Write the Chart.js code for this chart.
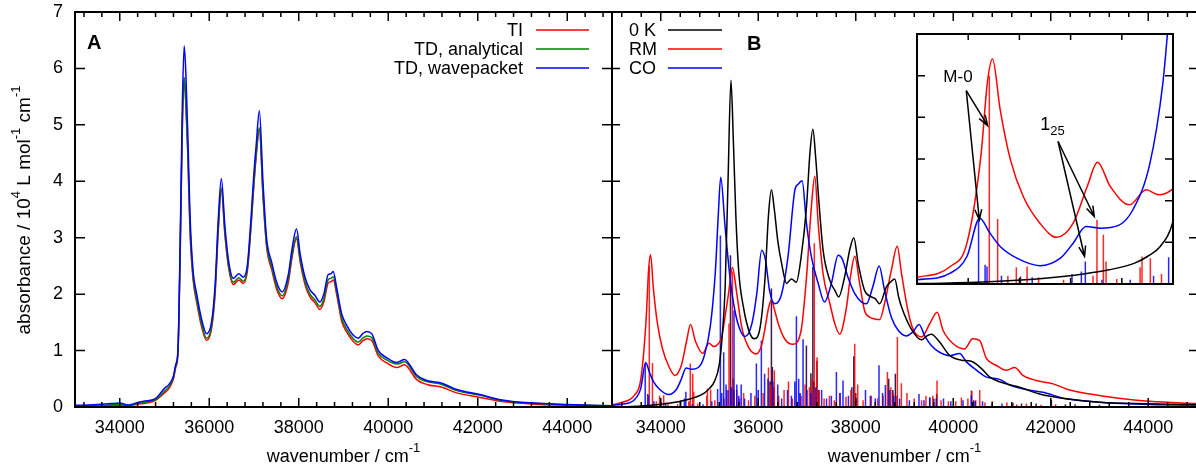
<!DOCTYPE html>
<html>
<head>
<meta charset="utf-8">
<script src="https://cdn.jsdelivr.net/npm/chart.js@4.4.1/dist/chart.umd.min.js"></script>
<style>
html,body{margin:0;padding:0;background:#fff;overflow:hidden}
#wrap{position:relative;width:1196px;height:468px;overflow:hidden;background:#fff}
canvas{position:absolute}
#cA{left:0;top:0}
#cB{left:612px;top:0}
#cI{left:915px;top:33px}
</style>
</head>
<body>
<div id="wrap">
<canvas id="cA" width="614" height="468"></canvas>
<canvas id="cB" width="586" height="468"></canvas>
<canvas id="cI" width="260" height="253"></canvas>
</div>
<script>
// ---- panel A : three spectra on one wavenumber grid ----
const waveA = [33000,33400,33800,34000,34200,34400,34600,34800,35000,35100,
  35200,35250,35300,35350,35400,35440,35480,35520,35570,35640,
  35720,35830,35940,36050,36130,36200,36270,36350,36430,36540,
  36660,36760,36850,36930,36990,37050,37120,37200,37280,37400,
  37510,37630,37770,37850,37950,38030,38140,38250,38360,38470,
  38560,38660,38720,38770,38850,38960,39070,39220,39330,39430,
  39520,39630,39780,39970,40190,40370,40450,40630,40860,41200,
  41530,42050,42500,43240,44000,45000];
const ti = [0.01,0.01,0.02,0.03,0.03,0.05,0.07,0.12,0.25,0.33,
  0.50,0.70,0.95,2.7,5.0,5.82,5.3,4.5,3.1,2.25,
  1.85,1.42,1.18,1.38,2.0,3.1,3.85,3.05,2.48,2.17,
  2.25,2.19,2.4,3.15,3.85,4.45,4.92,3.75,2.85,2.42,
  2.08,1.92,2.22,2.65,2.98,2.58,2.17,1.95,1.85,1.73,
  1.86,2.2,2.22,2.25,1.98,1.52,1.33,1.16,1.10,1.17,
  1.21,1.18,0.90,0.78,0.70,0.75,0.69,0.49,0.40,0.35,
  0.25,0.17,0.10,0.05,0.03,0.01];
const tdAnalytical = [0.02,0.02,0.04,0.05,0.04,0.06,0.09,0.13,0.28,0.36,
  0.52,0.72,0.97,2.75,5.05,5.84,5.35,4.55,3.2,2.3,
  1.9,1.47,1.22,1.42,2.05,3.15,3.88,3.1,2.52,2.21,
  2.29,2.23,2.44,3.2,3.9,4.5,4.95,3.8,2.9,2.47,
  2.13,1.97,2.28,2.7,3.02,2.63,2.22,2.0,1.9,1.78,
  1.92,2.26,2.28,2.31,2.03,1.58,1.38,1.21,1.15,1.22,
  1.26,1.23,0.95,0.83,0.76,0.80,0.75,0.54,0.45,0.40,
  0.29,0.21,0.12,0.065,0.04,0.02];
const tdWavepacket = [0.03,0.04,0.06,0.07,0.03,0.08,0.11,0.15,0.33,0.40,
  0.55,0.75,1.0,2.9,5.4,6.40,5.85,4.85,3.4,2.4,
  2.0,1.55,1.30,1.50,2.15,3.3,4.05,3.2,2.6,2.28,
  2.36,2.30,2.5,3.3,4.05,4.65,5.25,4.0,3.0,2.55,
  2.20,2.04,2.36,2.8,3.16,2.72,2.30,2.08,1.98,1.86,
  2.0,2.35,2.36,2.40,2.1,1.65,1.45,1.27,1.22,1.30,
  1.34,1.30,1.00,0.87,0.79,0.84,0.78,0.57,0.47,0.42,
  0.31,0.22,0.13,0.07,0.045,0.02];

// ---- panel B : [wavenumber, absorbance] ----
const zeroK = [[33000,0.005],[33400,0.01],[33800,0.03],[34200,0.07],[34500,0.12],[34700,0.17],[34900,0.25],[35000,0.33],
  [35100,0.45],[35200,0.75],[35260,1.25],[35320,2.1],[35380,4.0],[35440,5.79],[35490,4.7],[35540,3.4],[35600,2.4],
  [35700,1.75],[35830,1.30],[35920,1.21],[36040,1.42],[36140,2.3],[36210,3.4],[36270,3.85],[36330,3.5],[36400,2.95],
  [36480,2.54],[36580,2.19],[36680,2.27],[36780,2.21],[36880,2.66],[36990,3.55],[37060,4.5],[37120,4.92],[37180,4.4],
  [37230,3.8],[37330,2.78],[37470,2.24],[37570,2.07],[37650,1.95],[37770,2.30],[37880,2.8],[37960,3.0],[38050,2.54],
  [38180,2.07],[38320,1.95],[38400,1.92],[38490,1.83],[38630,2.13],[38720,2.22],[38800,2.27],[38880,1.95],[38940,1.77],
  [39140,1.38],[39350,1.19],[39460,1.26],[39550,1.29],[39720,1.15],[39930,0.91],[40170,0.83],[40370,0.81],[40580,0.68],
  [40750,0.53],[41090,0.41],[41360,0.35],[41770,0.23],[42320,0.145],[43000,0.085],[44000,0.057],[45000,0.04]];
const rm = [[33000,0.04],[33200,0.08],[33460,0.21],[33590,0.49],[33700,1.55],[33750,2.42],[33790,2.70],[33850,2.09],
  [33930,1.49],[34030,1.05],[34160,0.73],[34290,0.56],[34420,0.73],[34530,1.17],[34610,1.46],[34710,1.17],[34860,0.95],
  [34990,1.13],[35090,1.07],[35180,1.12],[35250,1.24],[35320,1.6],[35390,2.01],[35470,2.47],[35560,2.01],[35660,1.42],
  [35800,1.06],[35960,0.94],[36070,1.1],[36140,1.4],[36210,1.75],[36270,1.89],[36340,1.7],[36410,1.48],[36540,1.21],
  [36710,1.11],[36880,1.36],[36990,2.30],[37090,3.55],[37160,4.09],[37230,3.25],[37330,2.36],[37470,1.83],[37570,1.48],
  [37670,1.29],[37810,1.77],[37890,2.3],[37980,2.67],[38080,2.19],[38180,1.71],[38290,1.59],[38390,1.56],[38490,1.55],
  [38590,1.83],[38730,2.42],[38850,2.85],[38940,2.36],[39070,1.71],[39170,1.39],[39350,1.24],[39520,1.48],[39670,1.68],
  [39790,1.36],[40000,1.12],[40230,1.03],[40400,1.21],[40540,1.18],[40680,0.86],[40880,0.74],[41090,0.65],[41260,0.70],
  [41430,0.56],[41700,0.47],[42050,0.41],[42320,0.32],[42870,0.22],[43350,0.16],[44030,0.10],[45000,0.06]];
const co = [[33000,0.03],[33200,0.05],[33460,0.13],[33590,0.33],[33690,0.79],[33770,0.61],[33850,0.45],[33980,0.31],
  [34160,0.22],[34320,0.31],[34420,0.49],[34520,0.69],[34630,0.67],[34770,0.70],[34890,0.9],[35020,1.45],[35120,2.4],
  [35180,3.4],[35230,4.07],[35320,3.19],[35420,2.30],[35520,1.71],[35630,1.36],[35730,1.25],[35870,1.48],[35970,2.01],
  [36070,2.78],[36150,2.6],[36235,2.05],[36340,1.83],[36475,1.99],[36610,2.66],[36750,3.84],[36820,3.95],[36900,4.01],
  [36990,3.25],[37090,2.66],[37230,2.19],[37360,1.86],[37500,2.19],[37640,2.69],[37720,2.63],[37840,2.30],[37980,2.01],
  [38120,1.86],[38220,1.83],[38350,2.13],[38480,2.50],[38590,2.07],[38730,1.59],[38870,1.36],[39040,1.26],[39170,1.33],
  [39300,1.46],[39410,1.27],[39550,1.09],[39720,0.97],[39930,0.91],[40130,0.95],[40270,0.80],[40480,0.65],[40680,0.53],
  [40950,0.49],[41160,0.39],[41500,0.31],[41840,0.26],[42320,0.145],[43000,0.085],[44030,0.045],[45000,0.035]];

// stick spectra [wavenumber, intensity]
const rmSticks = [[33765,2.5],[33830,0.78],[33910,0.10],[33976,0.2],[34060,0.21],[34150,0.08],[34345,0.05],[34575,0.1],
  [34606,0.77],[34656,0.59],[34677,0.27],[34760,0.06],[34943,0.2],[34958,0.33],[35023,0.31],[35110,0.12],[35300,0.15],
  [35350,0.3],[35400,1.48],[35470,2.4],[35560,0.3],[35620,0.15],[35700,0.25],[35800,0.12],[35930,0.2],[36000,0.1],
  [36100,0.25],[36210,0.7],[36260,0.4],[36300,0.35],[36330,0.65],[36420,0.2],[36530,0.3],[36620,0.45],[36700,0.15],
  [36880,0.2],[36960,0.4],[37050,0.35],[37100,0.5],[37150,2.9],[37205,0.88],[37250,0.3],[37350,0.15],[37460,0.2],
  [37560,0.12],[37670,0.25],[37800,0.18],[37900,0.3],[37979,1.12],[38040,0.4],[38150,0.12],[38320,0.2],[38450,0.15],
  [38560,0.2],[38650,0.62],[38720,0.35],[38770,0.25],[38854,1.24],[38936,0.42],[39050,0.25],[39200,0.15],[39350,0.12],
  [39440,0.2],[39580,0.2],[39667,0.47],[39750,0.12],[39900,0.1],[40050,0.1],[40167,0.17],[40300,0.15],[40380,0.29],
  [40460,0.12],[40543,0.30],[40650,0.08],[40800,0.1],[41100,0.08],[41300,0.05],[41500,0.06],[41800,0.04],[42100,0.05]];
const coSticks = [[33681,0.77],[33732,0.23],[33747,0.21],[33860,0.1],[34100,0.08],[34411,0.12],[34484,0.15],[34515,0.27],
  [34645,0.05],[34866,0.05],[35048,0.1],[35166,0.32],[35223,3.04],[35250,0.25],[35291,0.97],[35340,0.4],[35380,0.3],
  [35450,0.35],[35503,1.71],[35560,0.4],[35600,0.2],[35650,0.4],[35720,0.15],[35850,0.25],[35962,0.77],[36000,0.3],
  [36064,1.18],[36130,0.59],[36200,0.5],[36300,0.45],[36400,0.4],[36480,0.15],[36600,0.3],[36680,0.2],[36750,0.45],
  [36783,1.61],[36830,0.5],[36860,0.25],[36919,1.2],[37000,0.3],[37080,0.25],[37180,0.35],[37300,0.3],[37400,0.15],
  [37500,0.2],[37603,0.62],[37680,0.25],[37739,0.47],[37850,0.2],[38000,0.15],[38200,0.3],[38300,0.2],[38400,0.15],
  [38477,0.74],[38550,0.25],[38608,0.39],[38700,0.3],[38780,0.2],[38900,0.15],[39100,0.12],[39297,0.23],[39400,0.12],
  [39517,0.17],[39650,0.15],[39800,0.15],[39950,0.1],[40200,0.12],[40372,0.2],[40450,0.1],[40600,0.1],[40800,0.05],
  [41000,0.06]];
const zeroKSticks = [[34008,0.09],[35430,2.69],[35480,0.5],[35500,0.3],[36240,0.45],[36270,2.1],[36290,0.71],[36320,0.35],
  [36988,1.09],[37080,0.6],[37120,2.48],[37150,0.45],[37205,0.82],[37240,0.3],[37920,0.35],[37960,0.9],[38000,0.25],
  [38676,0.5],[38760,0.3],[38813,0.59],[38850,0.2],[39517,0.17],[39600,0.15],[39660,0.23],[40372,0.29],[40420,0.12],
  [41225,0.07],[41400,0.06],[41700,0.06],[42013,0.13],[42300,0.05],[42500,0.05],[43000,0.04]];

const xLabelTicks = [34000, 36000, 38000, 40000, 42000, 44000];
const yLabelTicks = [0, 1, 2, 3, 4, 5, 6, 7];
const insetXTicks = [33600, 34000, 34400, 34800];
const insetYTicks = [0.5, 1, 1.5, 2, 2.5];

// inset annotations, in inset data units
const insetLabels = [{t: 'M-0', x: 33520, y: 2.43}, {t: '1', sub: '25', x: 34163, y: 1.85}];
const insetArrows = [[33585, 2.32, 33752, 1.90], [33585, 2.32, 33687, 0.77],
                     [34302, 1.71, 34585, 0.81], [34302, 1.71, 34509, 0.33]];

const FONT = '"Liberation Sans", Arial, Helvetica, sans-serif';

function pairs(list) { return list.map(p => ({x: p[0], y: p[1]})); }
function sticks(list) {
  const pts = [];
  list.forEach(p => { pts.push({x: p[0], y: 0}, {x: p[0], y: p[1]}, {x: p[0], y: null}); });
  return pts;
}
function curve(label, data, color, order) {
  return {label: label, data: data, borderColor: color, borderWidth: 1.5, order: order,
          cubicInterpolationMode: 'monotone', pointRadius: 0};
}
function stickSet(data, color, order) {
  return {data: data, borderColor: color, borderWidth: 1.5, order: order, pointRadius: 0, tension: 0, spanGaps: false};
}
function datasetsB() {
  return [
    curve('0 K', pairs(zeroK), '#000000', 1),
    curve('CO', pairs(co), '#0000ff', 2),
    curve('RM', pairs(rm), '#ff0000', 3),
    stickSet(sticks(coSticks), 'rgba(0,0,255,0.85)', 4),
    stickSet(sticks(rmSticks), 'rgba(255,0,0,0.85)', 5),
    stickSet(sticks(zeroKSticks), 'rgba(40,0,60,0.9)', 6)
  ];
}

function richText(ctx, parts, x, y, size, align) {
  const small = Math.round(size * 0.7);
  let total = 0;
  parts.forEach(p => {
    ctx.font = (p.sup || p.sub ? small : size) + 'px ' + FONT;
    p.w = ctx.measureText(p.t).width;
    total += p.w;
  });
  let cx = align == 'center' ? x - total / 2 : (align == 'right' ? x - total : x);
  ctx.textAlign = 'left';
  ctx.textBaseline = 'alphabetic';
  parts.forEach(p => {
    ctx.font = (p.sup || p.sub ? small : size) + 'px ' + FONT;
    const dy = p.sup ? -size * 0.55 : (p.sub ? size * 0.3 : 0);
    ctx.fillText(p.t, cx, y + dy);
    cx += p.w;
  });
}

// gnuplot style box with inward ticks on all four sides
function frame(chart, o) {
  const ctx = chart.ctx, a = chart.chartArea, x = chart.scales.x, y = chart.scales.y;
  ctx.save();
  ctx.strokeStyle = '#000';
  ctx.lineWidth = o.box;
  ctx.strokeRect(a.left, a.top, a.right - a.left, a.bottom - a.top);
  ctx.lineWidth = o.tick;
  ctx.beginPath();
  o.xTicks.forEach(v => {
    const px = x.getPixelForValue(v);
    const len = (o.xMajor && o.xMajor.indexOf(v) >= 0) ? o.majorLen : o.minorLen;
    ctx.moveTo(px, a.bottom); ctx.lineTo(px, a.bottom - len);
    ctx.moveTo(px, a.top); ctx.lineTo(px, a.top + len);
  });
  o.yTicks.forEach(v => {
    const py = y.getPixelForValue(v);
    ctx.moveTo(a.left, py); ctx.lineTo(a.left + o.yLen, py);
    ctx.moveTo(a.right, py); ctx.lineTo(a.right - o.yLen, py);
  });
  ctx.stroke();
  ctx.restore();
}

function legend(ctx, items, textX, align, lineX0, lineX1, top) {
  ctx.save();
  items.forEach((it, i) => {
    ctx.fillStyle = '#000';
    ctx.font = '18px ' + FONT;
    ctx.textAlign = align;
    ctx.textBaseline = 'alphabetic';
    ctx.fillText(it[0], textX, top + 6 + 19 * i);
    ctx.strokeStyle = it[1];
    ctx.lineWidth = 1.5;
    ctx.beginPath();
    ctx.moveTo(lineX0, top + 19 * i);
    ctx.lineTo(lineX1, top + 19 * i);
    ctx.stroke();
  });
  ctx.restore();
}

const minorX = [];
for (let v = 33200; v < 45000; v += 400) minorX.push(v);

function noPad(s) { s.paddingTop = 0; s.paddingBottom = 0; s.paddingLeft = 0; s.paddingRight = 0; }

function xAxis() {
  return {
    type: 'linear', min: 33000, max: 45000,
    grid: {display: false, drawTicks: false}, border: {display: false},
    ticks: {font: {family: FONT, size: 18}, color: '#000', padding: 10, maxRotation: 0,
            callback: v => String(v)},
    afterBuildTicks: s => { s.ticks = xLabelTicks.map(v => ({value: v})); },
    afterFit: s => { s.height = 61; noPad(s); }
  };
}

const frameOpts = {box: 2, tick: 1.5, xTicks: minorX, xMajor: xLabelTicks, majorLen: 9, minorLen: 5,
                   yTicks: yLabelTicks, yLen: 10};

// ---- chart A ----
new Chart(document.getElementById('cA'), {
  type: 'line',
  data: {datasets: [
    curve('TI', waveA.map((x, i) => ({x: x, y: ti[i]})), '#ff0000', 3),
    curve('TD, analytical', waveA.map((x, i) => ({x: x, y: tdAnalytical[i]})), '#008000', 2),
    curve('TD, wavepacket', waveA.map((x, i) => ({x: x, y: tdWavepacket[i]})), '#0000ff', 1)
  ]},
  options: {
    responsive: false, animation: false, events: [],
    layout: {padding: {left: 0, right: 2, top: 12, bottom: 0}},
    plugins: {legend: {display: false}, tooltip: {enabled: false}},
    scales: {
      x: xAxis(),
      y: {
        min: 0, max: 7,
        grid: {display: false, drawTicks: false}, border: {display: false},
        ticks: {font: {family: FONT, size: 18}, color: '#000', padding: 12, callback: v => String(v)},
        afterBuildTicks: s => { s.ticks = yLabelTicks.map(v => ({value: v})); },
        afterFit: s => { s.width = 75; noPad(s); }
      }
    }
  },
  plugins: [{
    id: 'decoA',
    afterDatasetsDraw(chart) {
      const ctx = chart.ctx, a = chart.chartArea;
      frame(chart, frameOpts);
      legend(ctx, [['TI', '#ff0000'], ['TD, analytical', '#008000'], ['TD, wavepacket', '#0000ff']],
             a.left + 448, 'right', a.left + 461, a.left + 514, 30);
      ctx.save();
      ctx.fillStyle = '#000';
      ctx.font = 'bold 20px ' + FONT;
      ctx.textAlign = 'left';
      ctx.fillText('A', a.left + 12, 49);
      richText(ctx, [{t: 'wavenumber / cm'}, {t: '-1', sup: true}], (a.left + a.right) / 2, 462, 18, 'center');
      ctx.translate(30, 210);
      ctx.rotate(-Math.PI / 2);
      richText(ctx, [{t: 'absorbance / 10'}, {t: '4', sup: true}, {t: ' L mol'}, {t: '-1', sup: true},
                     {t: ' cm'}, {t: '-1', sup: true}], 0, 0, 19, 'center');
      ctx.restore();
    }
  }]
});

// ---- chart B ----
new Chart(document.getElementById('cB'), {
  type: 'line',
  data: {datasets: datasetsB()},
  options: {
    responsive: false, animation: false, events: [],
    layout: {padding: {left: 0, right: 1, top: 12, bottom: 0}},
    plugins: {legend: {display: false}, tooltip: {enabled: false}},
    scales: {
      x: xAxis(),
      y: {min: 0, max: 7, display: false}
    }
  },
  plugins: [{
    id: 'decoB',
    afterDatasetsDraw(chart) {
      const ctx = chart.ctx, a = chart.chartArea;
      frame(chart, Object.assign({}, frameOpts, {yLen: 8}));
      legend(ctx, [['0 K', '#000000'], ['RM', '#ff0000'], ['CO', '#0000ff']],
             a.left + 17, 'left', a.left + 56, a.left + 110, 30);
      ctx.save();
      ctx.fillStyle = '#000';
      ctx.font = 'bold 20px ' + FONT;
      ctx.textAlign = 'left';
      ctx.fillText('B', a.left + 135, 50);
      richText(ctx, [{t: 'wavenumber / cm'}, {t: '-1', sup: true}], (a.left + a.right) / 2, 462, 18, 'center');
      ctx.restore();
    }
  }]
});

// ---- inset ----
function arrow(ctx, x0, y0, x1, y1) {
  const ang = Math.atan2(y1 - y0, x1 - x0), L = 11, w = 0.32;
  ctx.beginPath();
  ctx.moveTo(x0, y0); ctx.lineTo(x1, y1);
  ctx.moveTo(x1 - L * Math.cos(ang - w), y1 - L * Math.sin(ang - w));
  ctx.lineTo(x1, y1);
  ctx.lineTo(x1 - L * Math.cos(ang + w), y1 - L * Math.sin(ang + w));
  ctx.stroke();
}

new Chart(document.getElementById('cI'), {
  type: 'line',
  data: {datasets: datasetsB()},
  options: {
    responsive: false, animation: false, events: [],
    layout: {padding: {left: 2, right: 2, top: 1, bottom: 2}},
    plugins: {legend: {display: false}, tooltip: {enabled: false}},
    scales: {
      x: {type: 'linear', min: 33200, max: 35200, display: false},
      y: {min: 0, max: 3, display: false}
    }
  },
  plugins: [{
    id: 'insetBg',
    beforeDraw(chart) {
      const ctx = chart.ctx;
      ctx.save();
      ctx.fillStyle = '#fff';
      ctx.fillRect(0, 0, chart.width, chart.height);
      ctx.restore();
    },
    afterDatasetsDraw(chart) {
      const ctx = chart.ctx, x = chart.scales.x, y = chart.scales.y;
      frame(chart, {box: 2, tick: 1.5, xTicks: insetXTicks, xMajor: insetXTicks, majorLen: 6, minorLen: 6,
                    yTicks: insetYTicks, yLen: 8});
      ctx.save();
      ctx.strokeStyle = '#000';
      ctx.lineWidth = 1.5;
      insetArrows.forEach(r => arrow(ctx, x.getPixelForValue(r[0]), y.getPixelForValue(r[1]),
                                          x.getPixelForValue(r[2]), y.getPixelForValue(r[3])));
      ctx.fillStyle = '#000';
      richText(ctx, [{t: insetLabels[0].t}], x.getPixelForValue(insetLabels[0].x), y.getPixelForValue(insetLabels[0].y), 17, 'center');
      richText(ctx, [{t: insetLabels[1].t}, {t: insetLabels[1].sub, sub: true}],
               x.getPixelForValue(insetLabels[1].x), y.getPixelForValue(insetLabels[1].y), 18, 'left');
      ctx.restore();
    }
  }]
});
</script>
</body>
</html>
